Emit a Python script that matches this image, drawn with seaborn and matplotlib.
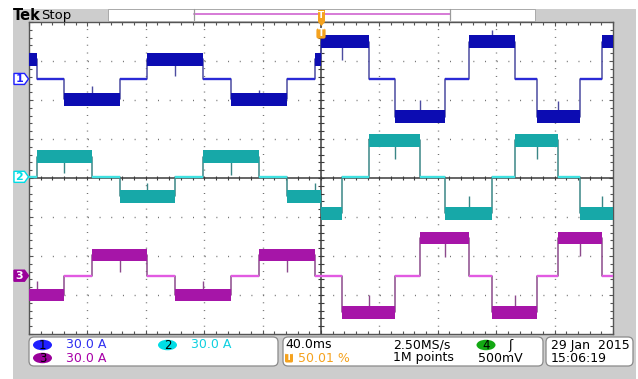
import numpy as np
import pandas as pd
import matplotlib
matplotlib.use("Agg")
import matplotlib.pyplot as plt
import seaborn as sns
from matplotlib.patches import Rectangle, FancyBboxPatch, Ellipse, Polygon
from matplotlib.transforms import IdentityTransform
from matplotlib.ticker import MultipleLocator

# ---------------- data (time in ms, current in A) ----------------
ch1_edges = [-200, -194.5, -176.0, -137.7, -119.2, -80.8, -61.6, -23.3, -4.1, 0,
             32.9, 50.7, 84.9, 101.4, 132.9, 147.9, 177.4, 192.5, 200]
ch1_levels = [15.0, 0, -15.8, 0, 15.0, 0, -15.8, 0, 15.0,
              28.5, 0, -29.2, 0, 28.5, 0, -29.2, 0, 28.5]
ch2_edges = [-200, -194.5, -156.8, -137.7, -100.0, -80.8, -42.5, -23.3, 0,
             14.4, 32.9, 67.8, 84.9, 117.1, 132.9, 162.3, 177.4, 200]
ch2_levels = [0, 15.4, 0, -15.0, 0, 15.4, 0, -15.0,
              -28.0, 0, 28.2, 0, -28.0, 0, 28.2, 0, -28.0]
ch3_edges = [-200, -176.0, -156.8, -119.2, -100.0, -61.6, -42.5, -4.1,
             14.4, 50.7, 67.8, 101.4, 117.1, 147.9, 162.3, 192.5, 200]
ch3_levels = [-14.8, 0, 15.9, 0, -14.8, 0, 15.9, 0,
              -28.3, 0, 29.0, 0, -28.3, 0, 29.0, 0]

ch1_spike_t = [-156.8, -100.0, -42.5, 14.4, 67.8, 117.1, 162.3]
ch1_spike_tip = [-5.4, 2.3, -8.5, 14.6, -16.0, 37.7, -17.0]
ch2_spike_t = [-176.0, -119.2, -61.6, -4.1, 50.7, 101.4, 147.9, 192.5]
ch2_spike_tip = [2.8, -4.6, 1.5, -4.6, 13.8, -14.6, 13.8, -15.0]
ch3_spike_t = [-194.5, -137.7, -80.8, -23.3, 32.9, 84.9, 132.9, 177.4]
ch3_spike_tip = [-3.8, 2.8, -3.8, 2.8, -14.8, 14.4, -14.8, 15.4]

ripple = [10.0, 10.0, 9.5]          # A, peak-to-peak noise band
zero_offsets = [2.54, 0.03, -2.505]  # divisions
amps_per_div = [30.0, 30.0, 30.0]
channel_labels = ["1", "2", "3"]
scale_text = ["30.0 A", "30.0 A", "30.0 A"]
timebase = "40.0ms"
trigger_pos = "50.01 %"
sample_rate = "2.50MS/s"
record_len = "1M points"
trig_level = "500mV"
date_txt = "29 Jan  2015"
time_txt = "15:06:19"

# ---------------- styles ----------------
band_col = ["#0c0cb2", "#17a8a8", "#a615a8"]
trans_col = ["#4c4ca0", "#3a8686", "#8c4a8c"]
zero_col = ["#2a2ad6", "#3fe2e2", "#e25ae2"]
badge_col = ["#2020ff", "#00dde6", "#9a009a"]
text_col = ["#3030f0", "#10d0e0", "#a800a8"]
orange = "#f5a21e"
gray_bg = "#cdcdcd"

W, H = 638, 379
sns.set_style("white")
plt.rcParams["font.family"] = ["DejaVu Sans"]
fig = plt.figure(figsize=(W / 100, H / 100), dpi=100)
fig.patch.set_facecolor("white")
ID = IdentityTransform()


def P(x, ytop):
    return (x, H - ytop)


# background gray
fig.add_artist(Rectangle(P(13, 379), 636 - 13, 379 - 9, transform=ID,
                         facecolor=gray_bg, edgecolor="none", zorder=-10))

ax = fig.add_axes([29 / W, (H - 334) / H, 584 / W, 312 / H])
ax.set_facecolor("white")
ax.set_xlim(-200, 200)
ax.set_ylim(-4, 4)

# graticule
for xv in [-160, -120, -80, -40, 40, 80, 120, 160]:
    ax.axvline(xv, color="#6e6e6e", lw=1.0, dashes=(0.7, 4.92), zorder=0.5)
for yv in [-3, -2, -1, 1, 2, 3]:
    ax.axhline(yv, color="#6e6e6e", lw=1.0, dashes=(0.7, 7.71), zorder=0.5)
ax.axhline(0, color="#3c3c3c", lw=1.1, zorder=0.6)
ax.axvline(0, color="#3c3c3c", lw=1.1, zorder=0.6)
xt = np.arange(-200, 201, 8)
yt = np.arange(-4, 4.01, 0.2)
ax.plot(xt, np.zeros_like(xt), ls="none", marker="|", ms=3.2, mew=0.8,
        color="#3c3c3c", zorder=0.6)
ax.plot(np.zeros_like(yt), yt, ls="none", marker="_", ms=4.5, mew=0.8,
        color="#3c3c3c", zorder=0.6)

ax.xaxis.set_major_locator(MultipleLocator(40))
ax.xaxis.set_minor_locator(MultipleLocator(8))
ax.yaxis.set_major_locator(MultipleLocator(1))
ax.yaxis.set_minor_locator(MultipleLocator(0.2))
ax.tick_params(which="both", direction="in", top=True, right=True, bottom=True,
               left=True, labelbottom=False, labelleft=False, labeltop=False,
               labelright=False, color="#555555", width=0.8)
ax.tick_params(which="major", length=3)
ax.tick_params(which="minor", length=2.2)
for s in ax.spines.values():
    s.set_color("#555555")
    s.set_linewidth(1.0)
ax.set_xlabel("")
ax.set_ylabel("")

# traces
chans = [(ch1_edges, ch1_levels, ch1_spike_t, ch1_spike_tip),
         (ch2_edges, ch2_levels, ch2_spike_t, ch2_spike_tip),
         (ch3_edges, ch3_levels, ch3_spike_t, ch3_spike_tip)]
rows = []
for i, (edges, levels, _, _) in enumerate(chans):
    for t0, t1, lv in zip(edges[:-1], edges[1:], levels):
        y = zero_offsets[i] + lv / amps_per_div[i]
        rows.append({"t": t0, "y": y, "ch": channel_labels[i]})
        rows.append({"t": t1, "y": y, "ch": channel_labels[i]})
df = pd.DataFrame(rows)
sns.lineplot(data=df, x="t", y="y", hue="ch",
             palette={channel_labels[i]: trans_col[i] for i in range(3)},
             estimator=None, sort=False, legend=False, lw=1.1, ax=ax, zorder=2)
ax.set_xlabel("")
ax.set_ylabel("")

for i, (edges, levels, sp_t, sp_tip) in enumerate(chans):
    k = amps_per_div[i]
    off = zero_offsets[i]
    for t0, t1, lv in zip(edges[:-1], edges[1:], levels):
        if lv == 0:
            ax.hlines(off, t0, t1, color=zero_col[i], lw=1.7, zorder=3)
    for t, tip in zip(sp_t, sp_tip):
        seg = np.searchsorted(edges, t, side="right") - 1
        seg = min(max(seg, 0), len(levels) - 1)
        base = levels[seg]
        ax.vlines(t, off + base / k, off + tip / k, color=trans_col[i], lw=1.0, zorder=2)
    for t0, t1, lv in zip(edges[:-1], edges[1:], levels):
        if lv != 0:
            yc = off + lv / k
            h = ripple[i] / 2 / k
            ax.fill_between([t0, t1], yc - h, yc + h, color=band_col[i],
                            lw=0, zorder=4)

# ---------------- top bar ----------------
fig.text(13, H - 15, "Tek", transform=ID, fontsize=10.5, fontweight="bold",
         va="center", ha="left", color="black")
fig.text(41, H - 15, "Stop", transform=ID, fontsize=9.5, va="center",
         ha="left", color="black")
fig.add_artist(Rectangle(P(108, 21), 535 - 108, 12, transform=ID,
                         facecolor="white", edgecolor="#a0a0a0", lw=0.6, zorder=1))
fig.add_artist(matplotlib.lines.Line2D([194, 450], [H - 14.3, H - 14.3],
                                       transform=ID, color="#d67ad6", lw=1.4, zorder=2))
for xb in (194, 450):
    fig.add_artist(matplotlib.lines.Line2D([xb, xb], [H - 9, H - 20],
                                           transform=ID, color="#9a9a9a", lw=0.9, zorder=2))
# trigger markers
fig.add_artist(Polygon([P(318, 10), P(325, 10), P(325, 22), P(321.5, 26), P(318, 22)],
                       closed=True, transform=ID, facecolor=orange, edgecolor="none",
                       zorder=6))
fig.text(321.5, H - 16, "T", transform=ID, fontsize=6.5, color="white",
         fontweight="bold", ha="center", va="center", zorder=7)
fig.add_artist(FancyBboxPatch(P(317, 38), 8, 9, boxstyle="round,pad=0.6,rounding_size=2",
                              transform=ID, facecolor=orange, edgecolor="none", zorder=6))
fig.text(321, H - 33, "T", transform=ID, fontsize=7, color="white",
         fontweight="bold", ha="center", va="center", zorder=7)

# ---------------- channel markers on the left ----------------
for i in range(3):
    yd = ax.transData.transform((0, zero_offsets[i]))[1]
    yc = H - yd
    if i == 2:
        fc, ec, tc = badge_col[2], badge_col[2], "white"
    else:
        fc, ec, tc = "white", badge_col[i], badge_col[i]
    fig.add_artist(Polygon([P(14, yc - 5.5), P(24.5, yc - 5.5), P(28.5, yc),
                            P(24.5, yc + 5.5), P(14, yc + 5.5)], closed=True,
                           transform=ID, facecolor=fc, edgecolor=ec, lw=1.0, zorder=5))
    fig.text(19.5, yd, channel_labels[i], transform=ID, fontsize=8, color=tc,
             fontweight="bold", ha="center", va="center", zorder=6)

# ---------------- bottom info boxes ----------------
for (x0, x1) in [(29, 278), (283, 543), (546, 633)]:
    fig.add_artist(FancyBboxPatch(P(x0, 366), x1 - x0, 366 - 337,
                                  boxstyle="round,pad=0,rounding_size=5",
                                  transform=ID, facecolor="white",
                                  edgecolor="#8a8a8a", lw=0.9, zorder=1))

FS = 9
row1, row2 = H - 345, H - 358


def badge(xc, y, label, color):
    fig.add_artist(Ellipse((xc, y), 19, 10.5, transform=ID, facecolor=color,
                           edgecolor="none", zorder=2))
    fig.text(xc, y - 0.3, label, transform=ID, fontsize=8.5, color="black",
             ha="center", va="center", zorder=3)


badge(42.5, row1, "1", badge_col[0])
fig.text(66, row1, scale_text[0], transform=ID, fontsize=FS, color=text_col[0],
         ha="left", va="center")
badge(167.5, row1, "2", badge_col[1])
fig.text(191, row1, scale_text[1], transform=ID, fontsize=FS, color=text_col[1],
         ha="left", va="center")
badge(42.5, row2, "3", badge_col[2])
fig.text(66, row2, scale_text[2], transform=ID, fontsize=FS, color=text_col[2],
         ha="left", va="center")

fig.text(285, row1, timebase, transform=ID, fontsize=FS, color="black",
         ha="left", va="center")
fig.add_artist(FancyBboxPatch((285, row2 - 4.5), 8, 9,
                              boxstyle="round,pad=0,rounding_size=1.5",
                              transform=ID, facecolor=orange, edgecolor="none", zorder=2))
fig.text(289, row2, "T", transform=ID, fontsize=6.5, color="white",
         fontweight="bold", ha="center", va="center", zorder=3)
fig.text(298, row2, trigger_pos, transform=ID, fontsize=FS, color=orange,
         ha="left", va="center")
fig.text(393, row1, sample_rate, transform=ID, fontsize=FS, color="black",
         ha="left", va="center")
fig.text(393, row2, record_len, transform=ID, fontsize=FS, color="black",
         ha="left", va="center")
badge(486, row1, "4", "#13a813")
fig.text(510, row1, "ʃ", transform=ID, fontsize=FS, color="black",
         ha="center", va="center")
fig.text(478, row2, trig_level, transform=ID, fontsize=FS, color="black",
         ha="left", va="center")
fig.text(551, row1, date_txt, transform=ID, fontsize=FS, color="black",
         ha="left", va="center")
fig.text(551, row2, time_txt, transform=ID, fontsize=FS, color="black",
         ha="left", va="center")

fig.savefig("out.png", dpi=100)
